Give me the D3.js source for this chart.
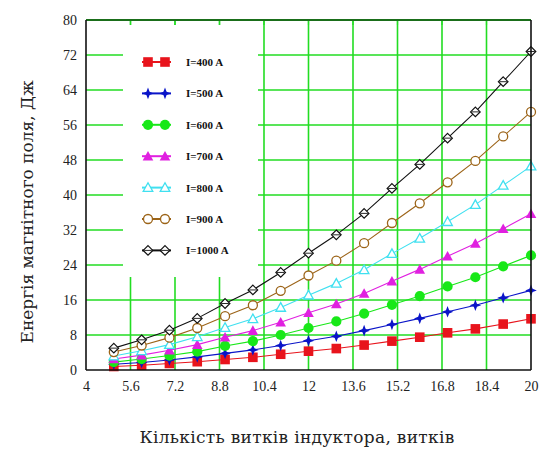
<!DOCTYPE html>
<html><head><meta charset="utf-8">
<script src="https://cdn.jsdelivr.net/npm/d3@7"></script>
<style>body{margin:0;background:#fff}svg{display:block}</style>
</head><body>
<script>
const turns = [5,6,7,8,9,10,11,12,13,14,15,16,17,18,19,20];
const sI400  = [0.8,1.1,1.5,1.9,2.4,2.9,3.6,4.3,4.9,5.7,6.6,7.5,8.5,9.4,10.5,11.7];
const sI500  = [1.3,1.7,2.3,3.0,3.8,4.6,5.6,6.7,7.7,9.0,10.4,11.8,13.3,14.8,16.5,18.2];
const sI600  = [1.8,2.5,3.3,4.2,5.5,6.6,8.0,9.6,11.1,12.9,14.9,16.9,19.1,21.2,23.7,26.2];
const sI700  = [2.5,3.4,4.5,5.8,7.5,9.0,10.9,13.1,15.1,17.5,20.3,23.0,26.0,28.9,32.3,35.7];
const sI800  = [3.2,4.4,5.8,7.6,9.7,11.7,14.3,17.1,19.8,22.9,26.6,30.1,33.9,37.8,42.2,46.6];
const sI900  = [4.1,5.6,7.4,9.6,12.3,14.8,18.1,21.6,25.0,29.0,33.6,38.1,42.9,47.8,53.4,59.0];
const sI1000 = [5.0,6.9,9.1,11.8,15.2,18.3,22.3,26.7,30.9,35.8,41.5,47.0,53.0,59.0,65.9,72.8];
const legendLabels = ["I=400 A","I=500 A","I=600 A","I=700 A","I=800 A","I=900 A","I=1000 A"];
const xTicks = [4,5.6,7.2,8.8,10.4,12,13.6,15.2,16.8,18.4,20];
const yTicks = [0,8,16,24,32,40,48,56,64,72,80];
const xTitle = "Кількість витків індуктора, витків";
const yTitle = "Енергія магнітного поля, Дж";

const seriesVals = [sI400,sI500,sI600,sI700,sI800,sI900,sI1000];
const colors = ["#e8141c","#0a14c8","#18e818","#e020e0","#40e0f0","#9c6418","#111111"];
const shapes = ["square","star","circle","tri","otri","ocircle","odiamond"];

const W=543,H=450;
const L=86,R=531,T=20,B=370;
const x = d3.scaleLinear().domain([4,20]).range([L,R]);
const y = d3.scaleLinear().domain([0,80]).range([B,T]);

const svg = d3.select("body").append("svg").attr("width",W).attr("height",H);
const grid = "#22dd22";

const gg = svg.append("g");
xTicks.slice(1,-1).forEach(t=>{
  gg.append("line").attr("x1",x(t)).attr("x2",x(t)).attr("y1",T).attr("y2",B)
    .attr("stroke",grid).attr("stroke-width",1.6);
});
yTicks.slice(1,-1).forEach(t=>{
  gg.append("line").attr("x1",L).attr("x2",R).attr("y1",y(t)).attr("y2",y(t))
    .attr("stroke",grid).attr("stroke-width",1.6);
});

svg.append("rect").attr("x",123).attr("y",25).attr("width",135).attr("height",252).attr("fill","#fff");

xTicks.slice(1,-1).forEach(t=>{
  svg.append("line").attr("x1",x(t)).attr("x2",x(t)).attr("y1",T).attr("y2",T+5)
    .attr("stroke",grid).attr("stroke-width",1.2);
});

function marker(g, shape, color, cx, cy){
  const s = 4.8;
  if(shape==="square"){
    g.append("rect").attr("x",cx-s).attr("y",cy-s).attr("width",2*s).attr("height",2*s).attr("fill",color);
  } else if(shape==="circle"){
    g.append("circle").attr("cx",cx).attr("cy",cy).attr("r",s+0.3).attr("fill",color);
  } else if(shape==="star"){
    const p=[[0,-s-1],[1.6,-1.6],[s+1,0],[1.6,1.6],[0,s+1],[-1.6,1.6],[-s-1,0],[-1.6,-1.6]];
    g.append("polygon").attr("points",p.map(d=>[cx+d[0],cy+d[1]].join(",")).join(" ")).attr("fill",color);
  } else if(shape==="tri"){
    const p=[[0,-s-0.5],[s+0.5,s-0.5],[-s-0.5,s-0.5]];
    g.append("polygon").attr("points",p.map(d=>[cx+d[0],cy+d[1]].join(",")).join(" ")).attr("fill",color);
  } else if(shape==="otri"){
    const p=[[0,-s],[s,s-1],[-s,s-1]];
    g.append("polygon").attr("points",p.map(d=>[cx+d[0],cy+d[1]].join(",")).join(" "))
      .attr("fill","#fff").attr("stroke",color).attr("stroke-width",1.3);
  } else if(shape==="ocircle"){
    g.append("circle").attr("cx",cx).attr("cy",cy).attr("r",s-0.3).attr("fill","#fff")
      .attr("stroke",color).attr("stroke-width",1.3);
  } else if(shape==="odiamond"){
    const p=[[0,-s],[s,0],[0,s],[-s,0]];
    g.append("polygon").attr("points",p.map(d=>[cx+d[0],cy+d[1]].join(",")).join(" "))
      .attr("fill","#fff").attr("stroke",color).attr("stroke-width",1.2);
    g.append("line").attr("x1",cx-s+1).attr("x2",cx+s-1).attr("y1",cy).attr("y2",cy).attr("stroke",color).attr("stroke-width",0.9);
  }
}

const line = d3.line().x((d,i)=>x(turns[i])).y(d=>y(d));
const sg = svg.append("g");
seriesVals.forEach((vals,k)=>{
  sg.append("path").attr("d",line(vals)).attr("fill","none").attr("stroke",colors[k]).attr("stroke-width",1.1);
});
seriesVals.forEach((vals,k)=>{
  const g = sg.append("g");
  vals.forEach((v,i)=>marker(g,shapes[k],colors[k],x(turns[i]),y(v)));
});

const lg = svg.append("g");
legendLabels.forEach((lab,k)=>{
  const ly = 62 + k*31.4;
  lg.append("line").attr("x1",142).attr("x2",171).attr("y1",ly).attr("y2",ly).attr("stroke",colors[k]).attr("stroke-width",2);
  marker(lg,shapes[k],colors[k],148,ly);
  marker(lg,shapes[k],colors[k],165,ly);
  lg.append("text").attr("x",186).attr("y",ly+4).text(lab)
    .attr("font-family","Liberation Serif").attr("font-size",11).attr("font-weight","bold").attr("fill","#111");
});

svg.append("line").attr("x1",L).attr("x2",R).attr("y1",T).attr("y2",T).attr("stroke","#1a6e1a").attr("stroke-width",2);
svg.append("line").attr("x1",L).attr("x2",L).attr("y1",T).attr("y2",B).attr("stroke","#111").attr("stroke-width",1.6);
svg.append("line").attr("x1",R).attr("x2",R).attr("y1",T).attr("y2",B).attr("stroke","#111").attr("stroke-width",1.6);
svg.append("line").attr("x1",L).attr("x2",R).attr("y1",B).attr("y2",B).attr("stroke","#111").attr("stroke-width",1.6);

const font = "Liberation Serif";
const xa = svg.append("g").attr("transform",`translate(0,${B})`)
  .call(d3.axisBottom(x).tickValues(xTicks).tickSize(0).tickPadding(11).tickFormat(d=>String(d)));
xa.select(".domain").remove();
xa.selectAll("text").attr("font-family",font).attr("font-size",14).attr("fill","#222");
const ya = svg.append("g").attr("transform",`translate(${L},0)`)
  .call(d3.axisLeft(y).tickValues(yTicks).tickSize(0).tickPadding(9).tickFormat(d=>String(d)));
ya.select(".domain").remove();
ya.selectAll("text").attr("font-family",font).attr("font-size",14).attr("fill","#222");

svg.append("text").attr("x",297).attr("y",443).attr("text-anchor","middle")
  .attr("font-family","DejaVu Serif").attr("font-size",17).attr("letter-spacing",0.3).attr("fill","#222").text(xTitle);
svg.append("text").attr("transform","translate(33,212) rotate(-90)").attr("text-anchor","middle")
  .attr("font-family","DejaVu Serif").attr("font-size",17).attr("fill","#222").text(yTitle);
</script>
</body></html>
